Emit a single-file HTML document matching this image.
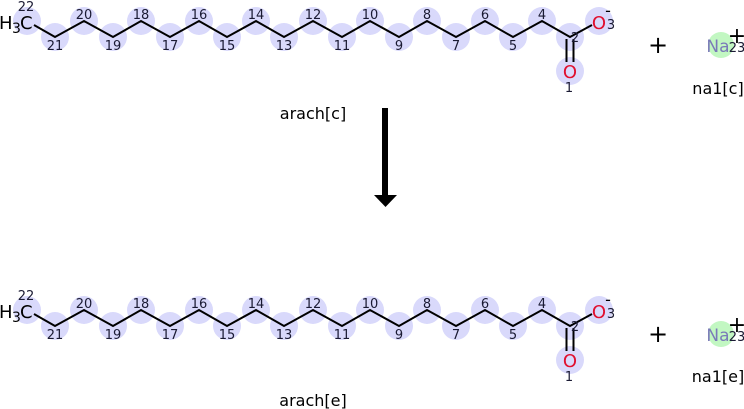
<!DOCTYPE html>
<html><head><meta charset="utf-8"><style>
html,body{margin:0;padding:0;background:#fff}
svg{display:block}
text{font-family:"DejaVu Sans","Liberation Sans",sans-serif}
.l{font-size:13px;fill:#1a1a33;text-anchor:middle}
</style></head><body>
<svg width="744" height="409" viewBox="0 0 744 409" xmlns="http://www.w3.org/2000/svg">
<g>
<g fill="#d9d9fb">
<circle cx="27" cy="21" r="14"/><circle cx="55" cy="37" r="14"/><circle cx="84" cy="21" r="14"/><circle cx="113" cy="37" r="14"/><circle cx="141" cy="21" r="14"/><circle cx="170" cy="37" r="14"/><circle cx="199" cy="21" r="14"/><circle cx="227" cy="37" r="14"/><circle cx="256" cy="21" r="14"/><circle cx="284" cy="37" r="14"/><circle cx="313" cy="21" r="14"/><circle cx="342" cy="37" r="14"/><circle cx="370" cy="21" r="14"/><circle cx="399" cy="37" r="14"/><circle cx="427" cy="21" r="14"/><circle cx="456" cy="37" r="14"/><circle cx="485" cy="21" r="14"/><circle cx="513" cy="37" r="14"/><circle cx="542" cy="21" r="14"/><circle cx="570" cy="37" r="14"/><circle cx="599" cy="21" r="14"/><circle cx="570" cy="71" r="14"/>
</g>
<circle cx="721" cy="45" r="13" fill="#c2f7c2"/>
<polyline fill="none" stroke="#000" stroke-width="2" points="34,25 55,37 84,21 113,37 141,21 170,37 199,21 227,37 256,21 284,37 313,21 342,37 370,21 399,37 427,21 456,37 485,21 513,37 542,21 570,37 592,25"/>
<line x1="566.5" y1="39" x2="566.5" y2="62" stroke="#000" stroke-width="2"/>
<line x1="573.5" y1="39" x2="573.5" y2="62" stroke="#000" stroke-width="2"/>
<text x="-1" y="29" font-size="18">H</text><text x="12" y="33" font-size="14">3</text><text x="20" y="29" font-size="18">C</text>
<text class="l" x="26" y="11">22</text>
<text class="l" x="55" y="50">21</text><text class="l" x="84" y="19">20</text><text class="l" x="113" y="50">19</text><text class="l" x="141" y="19">18</text><text class="l" x="170" y="50">17</text><text class="l" x="199" y="19">16</text><text class="l" x="227" y="50">15</text><text class="l" x="256" y="19">14</text><text class="l" x="284" y="50">13</text><text class="l" x="313" y="19">12</text><text class="l" x="342" y="50">11</text><text class="l" x="370" y="19">10</text><text class="l" x="399" y="50">9</text><text class="l" x="427" y="19">8</text><text class="l" x="456" y="50">7</text><text class="l" x="485" y="19">6</text><text class="l" x="513" y="50">5</text><text class="l" x="542" y="19">4</text>
<text class="l" x="575" y="42">2</text>
<text x="599" y="29" font-size="18" fill="#e0102f" text-anchor="middle">O</text>
<text class="l" x="611" y="29">3</text>
<text x="608" y="16" font-size="16" text-anchor="middle">-</text>
<text x="570" y="78" font-size="18" fill="#e0102f" text-anchor="middle">O</text>
<text class="l" x="569" y="92">1</text>
<text x="658" y="53" font-size="24" text-anchor="middle">+</text>
<text x="718" y="52" font-size="17" fill="#7a7ab8" text-anchor="middle">Na</text>
<text class="l" x="737" y="52">23</text>
<text x="737" y="43" font-size="22" text-anchor="middle">+</text>
<text x="718" y="94" font-size="16" text-anchor="middle">na1[c]</text>
<text x="313" y="119" font-size="16" text-anchor="middle">arach[c]</text>
</g>
<rect x="382" y="108" width="6" height="88" fill="#000"/>
<polygon points="374,195 397,195 385.5,207" fill="#000"/>
<g transform="translate(0,289)">
<g fill="#d9d9fb">
<circle cx="27" cy="21" r="14"/><circle cx="55" cy="37" r="14"/><circle cx="84" cy="21" r="14"/><circle cx="113" cy="37" r="14"/><circle cx="141" cy="21" r="14"/><circle cx="170" cy="37" r="14"/><circle cx="199" cy="21" r="14"/><circle cx="227" cy="37" r="14"/><circle cx="256" cy="21" r="14"/><circle cx="284" cy="37" r="14"/><circle cx="313" cy="21" r="14"/><circle cx="342" cy="37" r="14"/><circle cx="370" cy="21" r="14"/><circle cx="399" cy="37" r="14"/><circle cx="427" cy="21" r="14"/><circle cx="456" cy="37" r="14"/><circle cx="485" cy="21" r="14"/><circle cx="513" cy="37" r="14"/><circle cx="542" cy="21" r="14"/><circle cx="570" cy="37" r="14"/><circle cx="599" cy="21" r="14"/><circle cx="570" cy="71" r="14"/>
</g>
<circle cx="721" cy="45" r="13" fill="#c2f7c2"/>
<polyline fill="none" stroke="#000" stroke-width="2" points="34,25 55,37 84,21 113,37 141,21 170,37 199,21 227,37 256,21 284,37 313,21 342,37 370,21 399,37 427,21 456,37 485,21 513,37 542,21 570,37 592,25"/>
<line x1="566.5" y1="39" x2="566.5" y2="62" stroke="#000" stroke-width="2"/>
<line x1="573.5" y1="39" x2="573.5" y2="62" stroke="#000" stroke-width="2"/>
<text x="-1" y="29" font-size="18">H</text><text x="12" y="33" font-size="14">3</text><text x="20" y="29" font-size="18">C</text>
<text class="l" x="26" y="11">22</text>
<text class="l" x="55" y="50">21</text><text class="l" x="84" y="19">20</text><text class="l" x="113" y="50">19</text><text class="l" x="141" y="19">18</text><text class="l" x="170" y="50">17</text><text class="l" x="199" y="19">16</text><text class="l" x="227" y="50">15</text><text class="l" x="256" y="19">14</text><text class="l" x="284" y="50">13</text><text class="l" x="313" y="19">12</text><text class="l" x="342" y="50">11</text><text class="l" x="370" y="19">10</text><text class="l" x="399" y="50">9</text><text class="l" x="427" y="19">8</text><text class="l" x="456" y="50">7</text><text class="l" x="485" y="19">6</text><text class="l" x="513" y="50">5</text><text class="l" x="542" y="19">4</text>
<text class="l" x="575" y="42">2</text>
<text x="599" y="29" font-size="18" fill="#e0102f" text-anchor="middle">O</text>
<text class="l" x="611" y="29">3</text>
<text x="608" y="16" font-size="16" text-anchor="middle">-</text>
<text x="570" y="78" font-size="18" fill="#e0102f" text-anchor="middle">O</text>
<text class="l" x="569" y="92">1</text>
<text x="658" y="53" font-size="24" text-anchor="middle">+</text>
<text x="718" y="52" font-size="17" fill="#7a7ab8" text-anchor="middle">Na</text>
<text class="l" x="737" y="52">23</text>
<text x="737" y="43" font-size="22" text-anchor="middle">+</text>
<text x="718" y="93" font-size="16" text-anchor="middle">na1[e]</text>
<text x="313" y="117" font-size="16" text-anchor="middle">arach[e]</text>
</g>
</svg>
</body></html>
